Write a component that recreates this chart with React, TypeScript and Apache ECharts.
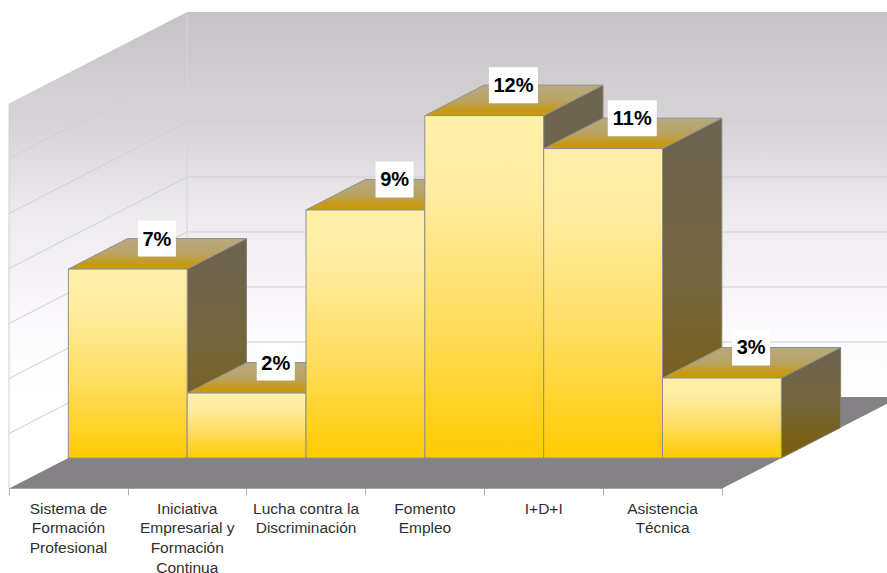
import React, { useEffect, useRef } from "react";
import * as echarts from "echarts";

const categories = [
  "Sistema de\nFormación\nProfesional",
  "Iniciativa\nEmpresarial y\nFormación\nContinua",
  "Lucha contra la\nDiscriminación",
  "Fomento\nEmpleo",
  "I+D+I",
  "Asistencia\nTécnica",
];
const values = [6.87, 2.36, 9.02, 12.45, 11.25, 2.91];
const gridTicks = [2, 4, 6, 8, 10, 12];
const axisMax = 14;

const DEPTH_X = 178;
const DEPTH_Y = -91.5;

const vGrad = (stops: [number, string][]) =>
  new echarts.graphic.LinearGradient(
    0, 0, 0, 1,
    stops.map(([offset, color]) => ({ offset, color }))
  );

function wallItem(_: any, api: any) {
  const [x0, y0] = api.coord([0, 0]);
  const cw = api.size([1, 0])[0];
  const left = x0 - cw / 2;
  const right = left + cw * categories.length;
  const top = api.coord([0, axisMax])[1];
  const bx = left + DEPTH_X;
  const by = y0 + DEPTH_Y;
  const byTop = top + DEPTH_Y;
  const wallFill = () =>
    new (echarts.graphic.LinearGradient as any)(0, byTop, 0, by, [
      { offset: 0, color: "#c6c3c6" },
      { offset: 0.3, color: "#d8d5d8" },
      { offset: 0.55, color: "#eeecef" },
      { offset: 0.8, color: "#fbf9fc" },
      { offset: 1, color: "#ffffff" },
    ], true);
  return {
    type: "group",
    children: [
      { type: "polygon", shape: { points: [[bx, byTop], [bx + right - left, byTop], [bx + right - left, by], [bx, by]] }, style: { fill: wallFill() } },
      { type: "polygon", shape: { points: [[left, top], [bx, byTop], [bx, by], [left, y0]] }, style: { fill: wallFill() } },
      { type: "polygon", shape: { points: [[left, y0], [right, y0], [right + DEPTH_X, by], [bx, by]] }, style: { fill: "#858285" } },
      { type: "line", shape: { x1: left, y1: top, x2: left, y2: y0 }, style: { stroke: "#d0d0d0", lineWidth: 1 } },
      { type: "line", shape: { x1: bx, y1: byTop, x2: bx, y2: by }, style: { stroke: "#d6d4d8", lineWidth: 1 } },
    ],
  };
}

function gridItem(_: any, api: any) {
  const [x, y] = api.coord([0, api.value(1)]);
  const cw = api.size([1, 0])[0];
  const left = x - cw / 2;
  const bx = left + DEPTH_X;
  const by = y + DEPTH_Y;
  return {
    type: "polyline",
    shape: { points: [[left, y], [bx, by], [bx + cw * categories.length, by]] },
    style: { fill: "none", stroke: "#d0ced2", lineWidth: 1 },
  };
}

function barItem(_: any, api: any) {
  const idx = api.value(0);
  const [cx, yTop] = api.coord([idx, api.value(1)]);
  const yBase = api.coord([idx, 0])[1];
  const w = api.size([1, 0])[0];
  const dx = DEPTH_X / 3;
  const dy = DEPTH_Y / 3;
  const x0 = cx - w / 2 + dx;
  const x1 = x0 + w;
  const ty = yTop + dy;
  const by = yBase + dy;
  const edge = { stroke: "#8f8f8f", lineWidth: 1 };
  return {
    type: "group",
    children: [
      {
        type: "polygon",
        shape: { points: [[x1, ty], [x1 + dx, ty + dy], [x1 + dx, by + dy], [x1, by]] },
        style: { fill: vGrad([[0, "#6c6352"], [0.5, "#74663c"], [1, "#7c5c04"]]), ...edge, stroke: "#8a8270" },
      },
      {
        type: "polygon",
        shape: { points: [[x0, ty], [x1, ty], [x1 + dx, ty + dy], [x0 + dx, ty + dy]] },
        style: { fill: vGrad([[0, "#b8a97e"], [0.5, "#b9a364"], [0.85, "#c89a10"], [1, "#c99a0a"]]), ...edge },
      },
      {
        type: "rect",
        shape: { x: x0, y: ty, width: w, height: by - ty },
        style: { fill: vGrad([[0, "#ffefaa"], [0.22, "#ffeca0"], [0.6, "#ffdd60"], [1, "#ffcb00"]]), ...edge },
      },
    ],
  };
}

function labelItem(_: any, api: any) {
  const idx = api.value(0);
  const v = api.value(1);
  const [cx, yTop] = api.coord([idx, v]);
  const x = cx + DEPTH_X / 2 - 0.5;
  const y = yTop + (DEPTH_Y * 2) / 3;
  const text = `${Math.round(v)}%`;
  const rw = text.length > 2 ? 49 : 38;
  const rh = 36;
  return {
    type: "group",
    children: [
      { type: "rect", shape: { x: x - rw / 2, y: y - rh / 2, width: rw, height: rh }, style: { fill: "#ffffff" } },
      {
        type: "text",
        style: {
          x, y, text,
          fill: "#000000",
          font: 'bold 20px "Liberation Sans", Arial, sans-serif',
          align: "center",
          verticalAlign: "middle",
        },
      },
    ],
  };
}

export default function App() {
  const ref = useRef<HTMLDivElement>(null);
  useEffect(() => {
    const chart = echarts.init(ref.current!, null, { renderer: "svg" });
    const barData = values.map((v, i) => [i, v]);
    chart.setOption({
      animation: false,
      backgroundColor: "#ffffff",
      grid: { left: 9, top: 103.5, width: 713, height: 385, containLabel: false, outerBoundsMode: "none" },
      xAxis: {
        type: "category",
        data: categories,
        boundaryGap: true,
        axisLine: { show: true, lineStyle: { color: "#c4c4c4", width: 1 } },
        axisTick: { show: true, length: 7, alignWithLabel: false, lineStyle: { color: "#b0b0b0" } },
        axisLabel: {
          interval: 0,
          margin: 10,
          color: "#303030",
          fontSize: 15.5,
          lineHeight: 19.6,
          fontFamily: '"Liberation Sans", Arial, sans-serif',
          align: "center",
        },
      },
      yAxis: {
        type: "value",
        min: 0,
        max: axisMax,
        interval: 2,
        axisLine: { show: false },
        axisTick: { show: false },
        axisLabel: { show: false },
        splitLine: { show: false },
      },
      series: [
        { type: "custom", name: "walls", renderItem: wallItem, data: [[0, 0]], clip: false, silent: true, z: 1 },
        { type: "custom", name: "grid", renderItem: gridItem, data: gridTicks.map((t) => [0, t]), clip: false, silent: true, z: 2 },
        { type: "custom", name: "bars", renderItem: barItem, data: barData, clip: false, silent: true, z: 3 },
        { type: "custom", name: "labels", renderItem: labelItem, data: barData, clip: false, silent: true, z: 4 },
      ],
    });
    return () => chart.dispose();
  }, []);
  return <div ref={ref} style={{ position: "fixed", left: 0, top: 0, width: 887, height: 573 }} />;
}
